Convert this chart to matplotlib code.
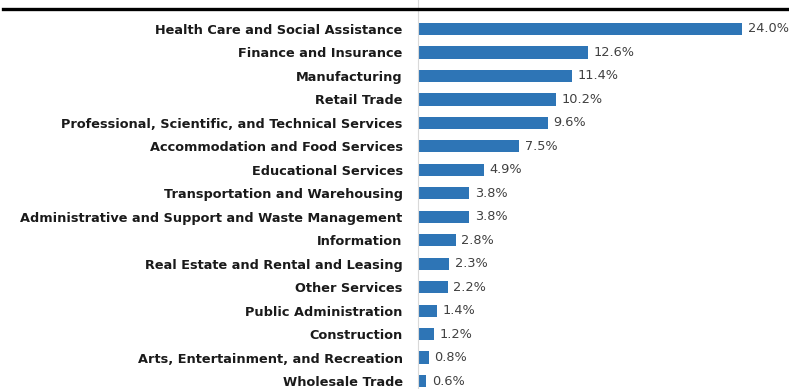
import matplotlib
matplotlib.use("Agg")
import matplotlib.pyplot as plt
from matplotlib.lines import Line2D

industries = [
    "Health Care and Social Assistance",
    "Finance and Insurance",
    "Manufacturing",
    "Retail Trade",
    "Professional, Scientific, and Technical Services",
    "Accommodation and Food Services",
    "Educational Services",
    "Transportation and Warehousing",
    "Administrative and Support and Waste Management",
    "Information",
    "Real Estate and Rental and Leasing",
    "Other Services",
    "Public Administration",
    "Construction",
    "Arts, Entertainment, and Recreation",
    "Wholesale Trade",
]
shares = [24.0, 12.6, 11.4, 10.2, 9.6, 7.5, 4.9, 3.8, 3.8, 2.8, 2.3, 2.2, 1.4, 1.2, 0.8, 0.6]

W, H = 789, 389
fig = plt.figure(figsize=(W / 100, H / 100), dpi=100)
x0 = 418
ax = fig.add_axes([x0 / W, 0, (W - x0) / W, 1])

pos = list(range(len(industries)))
ax.barh(pos, shares, height=0.52, color="#2E75B6")

step = 23.47
first = 29
ax.set_ylim((H - first) / step, -first / step)
ax.set_xlim(0, (W - x0) / 13.5)

for p, v in zip(pos, shares):
    ax.text(v + 0.42, p, f"{v:.1f}%", va="center", ha="left",
            fontsize=9.3, color="#404040")

ax.set_yticks(pos)
ax.set_yticklabels(industries, fontsize=9.3, fontweight="bold", color="#1a1a1a")
ax.tick_params(axis="y", length=0, pad=11)
ax.set_xticks([])
for s in ["top", "right", "bottom"]:
    ax.spines[s].set_visible(False)
ax.spines["left"].set_color("#d9d9d9")
ax.spines["left"].set_linewidth(0.8)

fig.add_artist(Line2D([3 / W, 1], [1 - 9 / H, 1 - 9 / H], color="black",
                      linewidth=2.4, transform=fig.transFigure))

fig.savefig("out.png", dpi=100)
